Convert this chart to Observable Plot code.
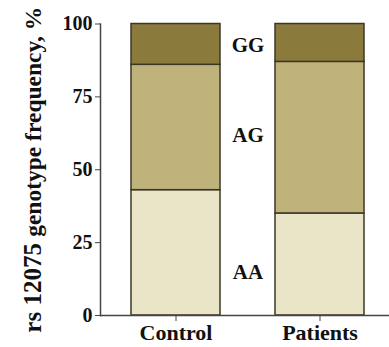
<!DOCTYPE html>
<html><head>
<meta charset="utf-8">
<script src="https://cdn.jsdelivr.net/npm/d3@7"></script>
<script src="https://cdn.jsdelivr.net/npm/@observablehq/plot@0.6"></script>
<style>body{margin:0;background:#fff}</style>
</head><body><div id="chart"></div>
<script>
const groups = ["Control", "Patients"];
const genotypes = ["AA", "AG", "GG"];
const controlValues = [43, 43, 14];
const patientValues = [35, 52, 13];
const labelPositions = [14.7, 61.7, 92.6];
const yTicks = [0, 25, 50, 75, 100];
const yLabelParts = ["rs 12075 ", "genotype frequency, %"];

const data = [];
genotypes.forEach((g, i) => {
  data.push({group: "Control", genotype: g, value: controlValues[i]});
  data.push({group: "Patients", genotype: g, value: patientValues[i]});
});
const labels = genotypes.map((g, i) => ({genotype: g, y: labelPositions[i]}));
const yLabel = yLabelParts.join("");

const plot = Plot.plot({
  width: 389, height: 347,
  marginLeft: 100, marginRight: 0, marginTop: 23.5, marginBottom: 32,
  style: {fontFamily: "'Liberation Serif', 'Times New Roman', serif", fontWeight: "bold", fontSize: "20px", color: "#111", background: "#fff"},
  x: {domain: groups, paddingInner: 0.38, paddingOuter: 0.193, align: 0.565, label: null},
  y: {domain: [0, 100], label: yLabel, labelArrow: "none"},
  color: {domain: genotypes, range: ["#ebe5c8", "#bfb27a", "#8a7a3c"]},
  marks: [
    Plot.barY(data, Plot.stackY({x: "group", y: "value", fill: "genotype", order: genotypes, stroke: "#3d3826", strokeWidth: 1.5})),
    Plot.text(labels, {y: "y", text: "genotype", dx: 3, fontSize: 21, fontWeight: "bold", fill: "#111"}),
    Plot.ruleY([0], {stroke: "#444", strokeWidth: 1.5}),
    Plot.frame({anchor: "left", stroke: "#444", strokeWidth: 1.5}),
    Plot.axisY({ticks: yTicks, tickSize: 5, tickPadding: 3, stroke: "#444", fontSize: 20, label: yLabel, labelArrow: "none", labelAnchor: "center", labelOffset: 74}),
    Plot.axisX({tickSize: 6, tickPadding: 3, stroke: "#444", fontSize: 22, label: null})
  ]
});
document.getElementById("chart").appendChild(plot);

// split y label into two styled parts
d3.select(plot).selectAll("text").each(function() {
  const t = d3.select(this);
  if (t.text().startsWith("rs 12075")) {
    const tsp = t.select("tspan");
    const target = tsp.empty() ? t : tsp;
    target.text(null);
    target.append("tspan").attr("font-size", 25).attr("font-weight", "bold").text(yLabelParts[0]);
    target.append("tspan").attr("font-size", 23.5).attr("font-weight", "bold").text(yLabelParts[1]);
  }
});
</script>
</body></html>
